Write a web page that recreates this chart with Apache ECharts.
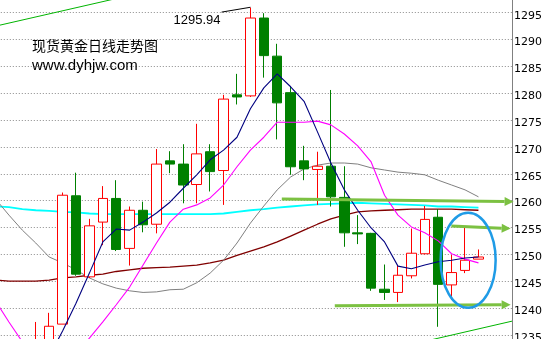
<!DOCTYPE html>
<html><head><meta charset="utf-8">
<script src="https://cdn.jsdelivr.net/npm/echarts/dist/echarts.min.js"></script>
<style>html,body{margin:0;padding:0;background:#fff}#c{width:555px;height:339px}</style>
</head><body><div id="c"></div>
<script>
// candle index -5 .. 33
const days = ['-5','-4','-3','-2','-1','0','1','2','3','4','5','6','7','8','9','10','11','12','13','14','15','16','17','18','19','20','21','22','23','24','25','26','27','28','29','30','31','32','33'];
const openP  = [null,null,null,1228,1230,1237.0,1260.9,1245.8,1256.0,1260.4,1251.1,1258.2,1255.6,1267.4,1266.8,1263.0,1269.1,1265.6,1279.7,1279.5,1294.0,1286.9,1280.1,1267.4,1265.8,1266.4,1260.6,1254.0,1253.9,1243.5,1242.9,1246.0,1250.1,1256.9,1244.3,1247.0,1249.1,null,null];
const closeP = [null,null,null,1233,1236.6,1261.0,1246.3,1255.3,1260.4,1250.9,1258.2,1255.5,1266.8,1266.8,1262.9,1268.7,1265.4,1278.9,1279.3,1294.0,1287.0,1278.2,1266.3,1265.9,1266.4,1260.7,1254.0,1253.8,1243.7,1242.9,1246.1,1250.2,1256.5,1244.4,1246.6,1248.9,1249.5,null,null];
const lowP   = [null,null,null,1226,1229,1237.0,1246.0,1245.6,1251.7,1250.6,1247.9,1254.1,1253.9,1265.1,1259.5,1259.5,1261.7,1259.2,1277.9,1279.3,1282.9,1271.4,1264.8,1263.8,1259.2,1258.9,1251.4,1251.9,1243.2,1241.5,1241.1,1245.5,1250.0,1236.5,1241.5,1246.5,1249.1,null,null];
const highP  = [null,null,null,1237.4,1239.1,1261.5,1265.2,1256.6,1262.7,1263.8,1258.9,1259.8,1269.6,1269.2,1270.5,1274.3,1270.5,1279.7,1283.6,1295.94,1294.9,1289.2,1281.3,1270.2,1269.1,1280.6,1266.4,1257.3,1254.0,1248.1,1247.9,1254.8,1259.0,1258.4,1249.9,1255.0,1250.9,null,null];

const ma5   = [null,null,null,null,1231,1235.7,1240.9,1246.5,1252.3,1254.7,1254.5,1256.0,1257.7,1259.7,1262.3,1264.8,1267.6,1269.4,1271.8,1277.1,1281.0,1283.6,1281.2,1278.5,1272.8,1267.0,1262.0,1258.2,1254.9,1252.3,1247.8,1247.3,1248.0,1248.6,1248.9,1249.3,1249.5,null,null];
const ma10  = [1241.3,1237.4,1233.7,1231.0,1229.8,1229.5,1231.4,1234.4,1237.4,1240.6,1243.9,1248.0,1252.1,1256.0,1258.4,1259.2,1260.5,1262.9,1266.3,1269.4,1271.8,1274.6,1274.6,1274.6,1274.8,1274.1,1272.4,1270.2,1267.2,1261.0,1257.3,1255.1,1254.0,1252.5,1250.1,1249.1,1248.4,null,null];
const ma30  = [1260.3,1257.3,1254.5,1252.1,1249.5,1248.4,1247.1,1245.6,1244.5,1243.7,1243.2,1242.9,1243.0,1243.4,1243.5,1244.7,1246.5,1248.9,1252.1,1255.8,1259.0,1262.0,1264.4,1265.9,1266.6,1267.0,1267.0,1266.8,1266.1,1265.7,1265.3,1265.1,1264.8,1263.8,1262.9,1262.0,1260.7,null,null];
const ma60  = [1245.2,1245.0,1245.0,1245.0,1245.2,1245.6,1245.8,1246.1,1246.3,1246.8,1247.1,1247.4,1247.5,1247.6,1247.8,1248.0,1248.4,1248.9,1249.8,1250.6,1251.4,1252.3,1253.4,1254.5,1255.6,1256.6,1257.3,1257.9,1258.1,1258.2,1258.3,1258.4,1258.4,1258.4,1258.4,1258.3,1258.2,null,null];
const ma120 = [1258.9,1258.8,1258.4,1258.2,1258.1,1257.9,1257.8,1257.6,1257.5,1257.5,1257.5,1257.5,1257.5,1257.5,1257.5,1257.5,1257.5,1257.6,1257.9,1258.2,1258.4,1258.7,1258.9,1259.1,1259.3,1259.4,1259.5,1259.6,1259.5,1259.4,1259.3,1259.2,1259.1,1258.9,1258.9,1258.8,1258.7,null,null];

const priceTicks = {min:1230, max:1300, step:5};
// annotations in (candle index, price) units
const channelLines = [[[-5.5,1292.2],[5,1298.2]], [[27,1233.8],[33.5,1237.55]]];
const arrowLines = [[[16.34,1260.3],[33.62,1259.8]], [[28.98,1255.25],[33.4,1254.8]], [[20.29,1240.4],[33.4,1240.6]]];
const ellipseMark = {i:30.23, price:1248.9, di:2.05, dp:8.85};
const peakLeader = [[11.85,1295.1],[14,1296.0]];
const peakLabel = '1295.94';
const titleText = '现货黄金日线走势图';
const siteText = 'www.dyhjw.com';

const candles = days.map((d,k)=> openP[k]==null ? '-' : [openP[k], closeP[k], lowP[k], highP[k]]);
const toLine = arr => arr.map(v => v==null ? '-' : v);

function maSeries(arr, color, width){
  return {type:'line', xAxisIndex:0, yAxisIndex:0, data:toLine(arr), symbol:'none', silent:true,
    lineStyle:{color:color, width:width}, z:3};
}

const option = {
  animation:false,
  backgroundColor:'#ffffff',
  grid:{left:-11.2, right:43, top:-14.2, bottom:-22.7, containLabel:false, outerBoundsMode:'none'},
  xAxis:[
    {type:'category', data:days, show:false, boundaryGap:true},
    {type:'value', min:-5.5, max:33.5, show:false}
  ],
  yAxis:{type:'value', position:'right', min:priceTicks.min, max:priceTicks.max, interval:priceTicks.step,
    axisLine:{show:true, onZero:false, lineStyle:{color:'#808080', width:1}},
    axisTick:{show:false},
    axisLabel:{margin:2, color:'#000', fontFamily:'DejaVu Sans', fontSize:11, verticalAlign:'top', lineHeight:6,
      formatter: v => String(v)},
    splitLine:{show:true, lineStyle:{color:'#8a8a8a', type:[1,2], width:1}}
  },
  series:[
    maSeries(ma120, '#00ffff', 1.8),
    maSeries(ma60, '#800000', 1.3),
    maSeries(ma30, '#808080', 1),
    {type:'candlestick', xAxisIndex:0, yAxisIndex:0, data:candles, barWidth:10, silent:true, z:4,
      itemStyle:{color:'#ffffff', color0:'#008000', borderColor:'#ff0000', borderColor0:'#008000', borderWidth:1}},
    Object.assign(maSeries(ma10, '#ff00ff', 1.1), {z:5}),
    Object.assign(maSeries(ma5, '#000080', 1.1), {z:5}),
    {type:'line', xAxisIndex:1, yAxisIndex:0, data:channelLines[0], symbol:'none', silent:true, lineStyle:{color:'#00b400', width:1}, z:6},
    {type:'line', xAxisIndex:1, yAxisIndex:0, data:channelLines[1], symbol:'none', silent:true, lineStyle:{color:'#00b400', width:1}, z:6},
    {type:'line', xAxisIndex:1, yAxisIndex:0, data:peakLeader, symbol:'none', silent:true, lineStyle:{color:'#000000', width:1}, z:6}
  ]
};

const chart = echarts.init(document.getElementById('c'));
chart.setOption(option);

function px(i, p){
  return [chart.convertToPixel({xAxisIndex:1}, i), chart.convertToPixel({yAxisIndex:0}, p)];
}
const graphics = [];
arrowLines.forEach(seg => {
  const a = px(seg[0][0], seg[0][1]);
  const b = px(seg[1][0], seg[1][1]);
  const dx = b[0]-a[0], dy = b[1]-a[1];
  const len = Math.sqrt(dx*dx+dy*dy);
  const ux = dx/len, uy = dy/len;
  const hl = 9, hw = 4.5;
  const base = [b[0]-ux*hl, b[1]-uy*hl];
  graphics.push({type:'line', z:100, shape:{x1:a[0], y1:a[1], x2:base[0], y2:base[1]},
    style:{stroke:'#7cc142', lineWidth:3}});
  graphics.push({type:'polygon', z:100, shape:{points:[[b[0],b[1]],[base[0]-uy*hw, base[1]+ux*hw],[base[0]+uy*hw, base[1]-ux*hw]]},
    style:{fill:'#7cc142'}});
});
const c0 = px(ellipseMark.i, ellipseMark.price);
const c1 = px(ellipseMark.i + ellipseMark.di, ellipseMark.price + ellipseMark.dp);
graphics.push({type:'ellipse', z:100, shape:{cx:c0[0], cy:c0[1], rx:Math.abs(c1[0]-c0[0]), ry:Math.abs(c1[1]-c0[1])},
  style:{fill:null, stroke:'#1f9be6', lineWidth:2.5}});
const lp = px(peakLeader[0][0], peakLeader[0][1]);
graphics.push({type:'text', z:100, x:lp[0]-1, y:lp[1]+8,
  style:{text:peakLabel, fill:'#000', font:'13px "Liberation Sans", Arial, sans-serif', textAlign:'right', textVerticalAlign:'middle'}});
graphics.push({type:'text', z:100, x:32, y:46,
  style:{text:titleText, fill:'#000', font:'14px "Noto Sans CJK SC", sans-serif', textAlign:'left', textVerticalAlign:'middle'}});
graphics.push({type:'text', z:100, x:32, y:66,
  style:{text:siteText, fill:'#000', font:'15px "Liberation Sans", Arial, sans-serif', textAlign:'left', textVerticalAlign:'middle'}});
chart.setOption({graphic:{elements:graphics}});
</script>
</body></html>
